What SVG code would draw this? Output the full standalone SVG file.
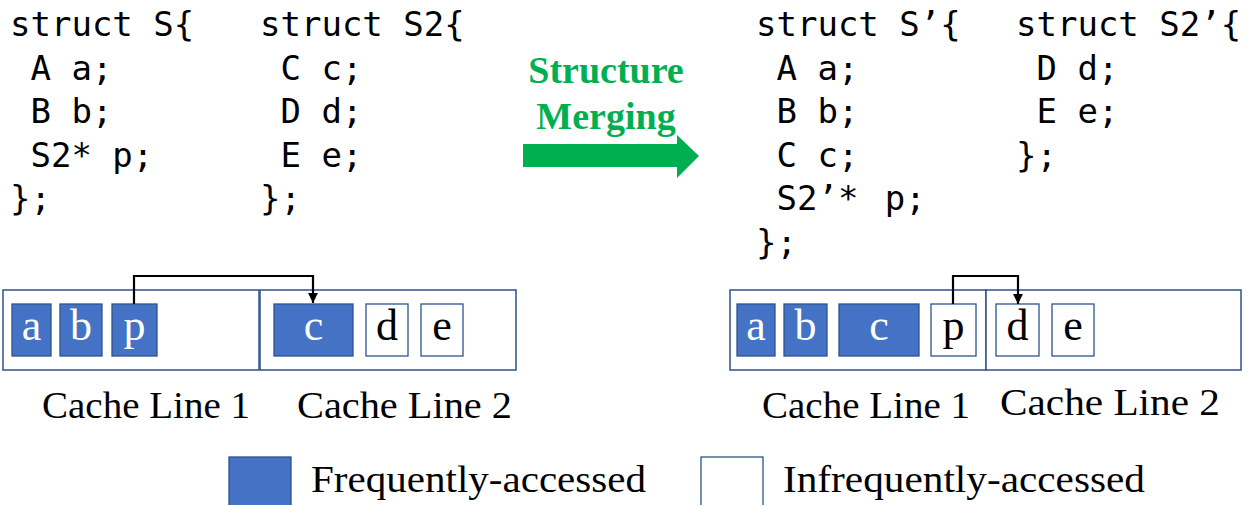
<svg xmlns="http://www.w3.org/2000/svg" width="1253" height="505" viewBox="0 0 1253 505">
<style>
.code{font-family:"DejaVu Sans Mono","Liberation Mono",monospace;font-size:34px;fill:#000;white-space:pre}
.ser{font-family:"Liberation Serif","Times New Roman",serif;font-size:38px;fill:#000}
.lbl{font-family:"Liberation Serif","Times New Roman",serif;font-size:44px;text-anchor:middle}
.lw{fill:#fff}
.lb{fill:#000}
.line{fill:#fff;stroke:#2F528F;stroke-width:1.5}
.hot{fill:#4472C4;stroke:#2F528F;stroke-width:1.3}
.cold{fill:#fff;stroke:#2F528F;stroke-width:1.3}
.conn{fill:none;stroke:#000;stroke-width:2.2}
.title{font-family:"Liberation Serif","Times New Roman",serif;font-size:38px;font-weight:bold;fill:#00B050;text-anchor:middle}
</style>
<defs>
<marker id="ah" viewBox="0 0 10 10" refX="10" refY="5" markerWidth="4.5" markerHeight="5" orient="auto" markerUnits="strokeWidth">
<path d="M0,0 L10,5 L0,10 z" fill="#000"/>
</marker>
</defs>
<rect width="1253" height="505" fill="#fff"/>

<g id="code-S">
<text class="code" x="10" y="36">struct S{</text>
<text class="code" x="10" y="80"> A a;</text>
<text class="code" x="10" y="123"> B b;</text>
<text class="code" x="10" y="167"> S2* p;</text>
<text class="code" x="10" y="210">};</text>
</g>
<g id="code-S2">
<text class="code" x="260" y="36">struct S2{</text>
<text class="code" x="260" y="80"> C c;</text>
<text class="code" x="260" y="123"> D d;</text>
<text class="code" x="260" y="167"> E e;</text>
<text class="code" x="260" y="210">};</text>
</g>
<g id="code-S-prime">
<text class="code" x="756" y="36">struct S’{</text>
<text class="code" x="756" y="80"> A a;</text>
<text class="code" x="756" y="123"> B b;</text>
<text class="code" x="756" y="167"> C c;</text>
<text class="code" x="756" y="210"> S2’*<tspan dx="6"> p;</tspan></text>
<text class="code" x="756" y="254">};</text>
</g>
<g id="code-S2-prime">
<text class="code" x="1016" y="36">struct S2’{</text>
<text class="code" x="1016" y="80"> D d;</text>
<text class="code" x="1016" y="123"> E e;</text>
<text class="code" x="1016" y="167">};</text>
</g>

<g id="merge-arrow">
<text class="title" x="606" y="83">Structure</text>
<text class="title" x="606" y="129">Merging</text>
<polygon points="523,144 677,144 677,135 699,156 677,178 677,167 523,167" fill="#00B050"/>
</g>

<g id="before-line1">
<rect class="line" x="3" y="290" width="256" height="80"/>
<rect class="hot" x="12" y="304" width="39" height="52"/>
<text class="lbl lw" x="31.5" y="340">a</text>
<rect class="hot" x="60" y="304" width="42" height="52"/>
<text class="lbl lw" x="81" y="340">b</text>
<rect class="hot" x="112" y="304" width="45" height="52"/>
<text class="lbl lw" x="134.5" y="340">p</text>
<text class="ser" x="42" y="418" textLength="208" lengthAdjust="spacingAndGlyphs">Cache Line 1</text>
</g>
<g id="before-line2">
<rect class="line" x="260" y="290" width="256" height="80"/>
<rect class="hot" x="274" y="304" width="79" height="52"/>
<text class="lbl lw" x="313.5" y="340">c</text>
<rect class="cold" x="366" y="304" width="42" height="52"/>
<text class="lbl lb" x="387" y="340">d</text>
<rect class="cold" x="421" y="304" width="42" height="52"/>
<text class="lbl lb" x="442" y="340">e</text>
<text class="ser" x="297" y="418" textLength="215" lengthAdjust="spacingAndGlyphs">Cache Line 2</text>
</g>

<g id="after-line1">
<rect class="line" x="730" y="290" width="256" height="80"/>
<rect class="hot" x="737" y="304" width="38" height="52"/>
<text class="lbl lw" x="756" y="340">a</text>
<rect class="hot" x="784" y="304" width="43" height="52"/>
<text class="lbl lw" x="805.5" y="340">b</text>
<rect class="hot" x="839" y="304" width="80" height="52"/>
<text class="lbl lw" x="879" y="340">c</text>
<rect class="cold" x="931" y="304" width="45" height="52"/>
<text class="lbl lb" x="953.5" y="340">p</text>
<text class="ser" x="762" y="418" textLength="208" lengthAdjust="spacingAndGlyphs">Cache Line 1</text>
</g>
<g id="after-line2">
<rect class="line" x="986" y="290" width="255" height="80"/>
<rect class="cold" x="996" y="304" width="43" height="52"/>
<text class="lbl lb" x="1017.5" y="340">d</text>
<rect class="cold" x="1052" y="304" width="42" height="52"/>
<text class="lbl lb" x="1073" y="340">e</text>
<text class="ser" x="1000" y="415" textLength="220" lengthAdjust="spacingAndGlyphs">Cache Line 2</text>
</g>

<g id="connectors">
<path class="conn" d="M134,304 V276 H313 V303" marker-end="url(#ah)"/>
<path class="conn" d="M953,304 V276 H1018 V304" marker-end="url(#ah)"/>
</g>

<g id="legend-frequent">
<rect class="hot" x="229" y="457" width="62" height="60"/>
<text class="ser" x="311" y="492" textLength="335" lengthAdjust="spacingAndGlyphs">Frequently-accessed</text>
</g>
<g id="legend-infrequent">
<rect class="cold" x="701" y="457" width="62" height="60"/>
<text class="ser" x="783" y="492" textLength="362" lengthAdjust="spacingAndGlyphs">Infrequently-accessed</text>
</g>
</svg>
